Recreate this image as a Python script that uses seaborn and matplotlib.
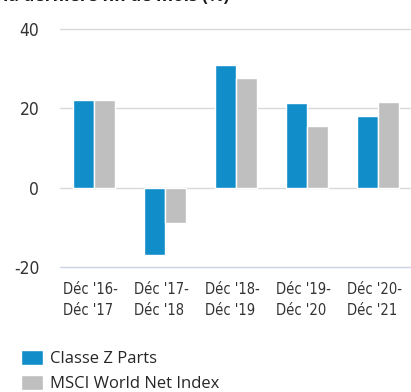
import matplotlib
matplotlib.use("Agg")
import matplotlib.pyplot as plt
from matplotlib import font_manager
from matplotlib.transforms import ScaledTranslation
import pandas as pd
import seaborn as sns

# Annual performance over calendar-year periods (%)
periods = ["Déc '16-\nDéc '17", "Déc '17-\nDéc '18", "Déc '18-\nDéc '19",
           "Déc '19-\nDéc '20", "Déc '20-\nDéc '21"]
classe_z = [22.2, -16.8, 31.0, 21.4, 18.0]
msci_world = [22.2, -8.9, 27.5, 15.6, 21.7]
series_names = ["Classe Z Parts", "MSCI World Net Index"]
y_ticks = [-20, 0, 20, 40]
title_text = "la dernière fin de mois (%)"

colors = ["#118dc9", "#bfbfbf"]

sns.set_theme(style="white")
plt.rcParams["font.family"] = ["Open Sans", "DejaVu Sans"]
plt.rcParams["axes.unicode_minus"] = False

# Pick a narrow face for the tick labels if one is installed
fonts = font_manager.fontManager.ttflist
names = {f.name for f in fonts}
condensed = [f for f in fonts if f.name == "DejaVu Sans" and "ondensed" in f.fname]
if "Liberation Sans Narrow" in names:
    tick_font = dict(family=["Liberation Sans Narrow", "DejaVu Sans"])
    xsize, ysize = 12.5, 14.5
elif condensed:
    tick_font = dict(family=["DejaVu Sans"], stretch="condensed")
    xsize, ysize = 10.5, 12.5
else:
    tick_font = dict(family=["Roboto", "DejaVu Sans"])
    xsize, ysize = 10.5, 12.5

df = pd.DataFrame({
    "period": periods * 2,
    "value": classe_z + msci_world,
    "series": [series_names[0]] * len(periods) + [series_names[1]] * len(periods),
})

fig = plt.figure(figsize=(4.11, 3.92), dpi=100)
ax = fig.add_axes([0.146, 0.3079, 0.854, 0.6288])

sns.barplot(data=df, x="period", y="value", hue="series", order=periods,
            hue_order=series_names, palette=colors, width=0.58,
            edgecolor="white", linewidth=1.0, saturation=1, ax=ax)

ax.set_xlim(-0.479, 4.465)
ax.set_ylim(-21, 41)
ax.set_yticks(y_ticks)
ax.set_xlabel("")
ax.set_ylabel("")
ax.set_axisbelow(True)
ax.grid(axis="y", color="#d9d9d9", linewidth=1.0)
ax.grid(axis="x", visible=False)
for s in ax.spines.values():
    s.set_visible(False)
ygl = ax.get_ygridlines()
ygl[0].set_color("#c9d3e2")

ax.tick_params(axis="y", length=0, pad=15, labelsize=ysize, labelcolor="#333333")
ax.tick_params(axis="x", length=0, pad=7.5, labelsize=xsize, labelcolor="#333333")
for lab in ax.get_yticklabels():
    lab.set_family(tick_font["family"])
    if "stretch" in tick_font:
        lab.set_stretch(tick_font["stretch"])
shift = ScaledTranslation(-31 / 100, 0, fig.dpi_scale_trans)
for lab in ax.get_xticklabels():
    lab.set_family(tick_font["family"])
    if "stretch" in tick_font:
        lab.set_stretch(tick_font["stretch"])
    lab.set_horizontalalignment("left")
    lab.set_multialignment("left")
    lab.set_linespacing(1.5)
    lab.set_transform(lab.get_transform() + shift)

handles, labels = ax.get_legend_handles_labels()
ax.get_legend().remove()
fig.legend(handles, labels, loc="upper left", bbox_to_anchor=(0.051, 0.107),
           frameon=False, fontsize=12, handlelength=1.32, handleheight=1.02,
           handletextpad=0.42, labelspacing=0.46, borderpad=0, borderaxespad=0)

fig.text(3 / 411, 1 - 1.5 / 392, title_text, fontsize=12.5, fontweight="bold",
         color="#1a1a1a", va="baseline", ha="left")

fig.savefig("out.png", dpi=100)
